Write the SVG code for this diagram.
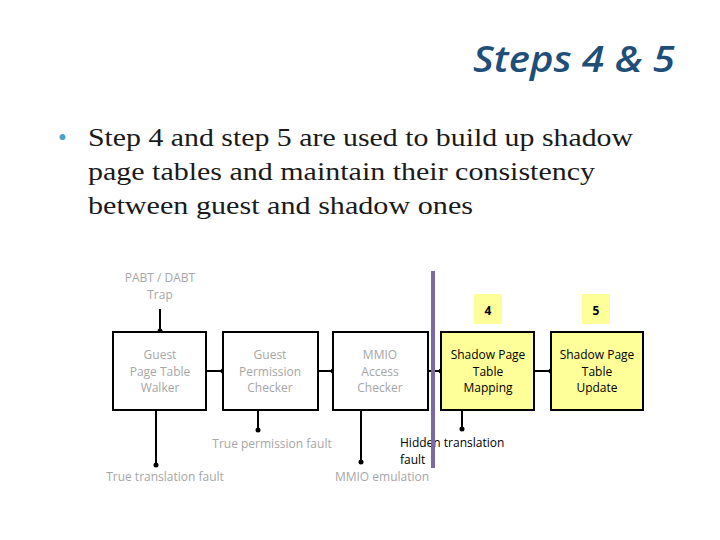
<svg xmlns="http://www.w3.org/2000/svg" width="720" height="540" viewBox="0 0 720 540">
<defs>
<style>
.box{fill:#fff;stroke:#000;stroke-width:2}
.yb{fill:#ffff99;stroke:#000;stroke-width:2}
.g{font-family:"Open Sans","Liberation Sans",sans-serif;font-size:12px;fill:#a6a6a6;text-anchor:middle}
.k{font-family:"Open Sans","Liberation Sans",sans-serif;font-size:12px;fill:#000;text-anchor:middle}
.ks{font-family:"Open Sans","Liberation Sans",sans-serif;font-size:12px;fill:#000;text-anchor:start}
.c line{stroke:#000;stroke-width:2}
.c circle{fill:#000}
</style>
</defs>
<rect width="720" height="540" fill="#fff"/>
<text x="675" y="72" font-family="'Open Sans','Liberation Sans',sans-serif" font-style="italic" font-weight="600" font-size="36" fill="#1f4e79" text-anchor="end" textLength="202" lengthAdjust="spacingAndGlyphs">Steps 4 &amp; 5</text>
<g font-family="'Liberation Serif',serif" font-size="25" fill="#1a1a1a" lengthAdjust="spacingAndGlyphs">
<text x="58" y="146" fill="#4aa0c8">•</text>
<text x="88" y="146" textLength="545" lengthAdjust="spacingAndGlyphs">Step 4 and step 5 are used to build up shadow</text>
<text x="88" y="180" textLength="507" lengthAdjust="spacingAndGlyphs">page tables and maintain their consistency</text>
<text x="88" y="214" textLength="385" lengthAdjust="spacingAndGlyphs">between guest and shadow ones</text>
</g>
<text class="g" x="160" y="282">PABT / DABT</text>
<text class="g" x="160" y="299">Trap</text>
<rect x="474" y="294" width="28" height="30" fill="#ffff99"/>
<text class="k" x="488" y="315" font-size="14" font-weight="bold">4</text>
<rect x="582" y="294" width="28" height="30" fill="#ffff99"/>
<text class="k" x="596" y="315" font-size="14" font-weight="bold">5</text>
<g class="c">
<line x1="160" y1="309" x2="160" y2="332"/><circle cx="160" cy="331" r="2.5"/>
<line x1="206" y1="371" x2="223" y2="371"/><circle cx="223" cy="371" r="2.5"/>
<line x1="318" y1="371" x2="333" y2="371"/><circle cx="333" cy="371" r="2.5"/>
<line x1="428" y1="371" x2="441" y2="371"/><circle cx="441" cy="371" r="2.5"/>
<line x1="534" y1="371" x2="551" y2="371"/><circle cx="551" cy="371" r="2.5"/>
<line x1="156" y1="410" x2="156" y2="465"/><circle cx="156" cy="465" r="2.5"/>
<line x1="258" y1="410" x2="258" y2="430"/><circle cx="258" cy="430" r="2.5"/>
<line x1="361" y1="410" x2="361" y2="462"/><circle cx="361" cy="462" r="2.5"/>
<line x1="462" y1="410" x2="462" y2="429"/><circle cx="462" cy="429" r="2.5"/>
</g>
<g id="n1"><rect class="box" x="113" y="332" width="93" height="78"/>
<text class="g" x="160" y="359">Guest</text><text class="g" x="160" y="376">Page Table</text><text class="g" x="160" y="392">Walker</text></g>
<g id="n2"><rect class="box" x="223" y="332" width="95" height="78"/>
<text class="g" x="270" y="359">Guest</text><text class="g" x="270" y="376">Permission</text><text class="g" x="270" y="392">Checker</text></g>
<g id="n3"><rect class="box" x="333" y="332" width="95" height="78"/>
<text class="g" x="380" y="359">MMIO</text><text class="g" x="380" y="376">Access</text><text class="g" x="380" y="392">Checker</text></g>
<g id="n4"><rect class="yb" x="441" y="332" width="93" height="78"/>
<text class="k" x="488" y="359">Shadow Page</text><text class="k" x="488" y="376">Table</text><text class="k" x="488" y="392">Mapping</text></g>
<g id="n5"><rect class="yb" x="551" y="332" width="92" height="78"/>
<text class="k" x="597" y="359">Shadow Page</text><text class="k" x="597" y="376">Table</text><text class="k" x="597" y="392">Update</text></g>
<text class="g" x="272" y="448">True permission fault</text>
<text class="g" x="165" y="481">True translation fault</text>
<text class="g" x="382" y="481">MMIO emulation</text>
<text class="ks" x="400" y="447">Hidden translation</text>
<text class="ks" x="400" y="464">fault</text>
<line x1="433" y1="271" x2="433" y2="468" stroke="#7b68a6" stroke-width="4"/>
</svg>
